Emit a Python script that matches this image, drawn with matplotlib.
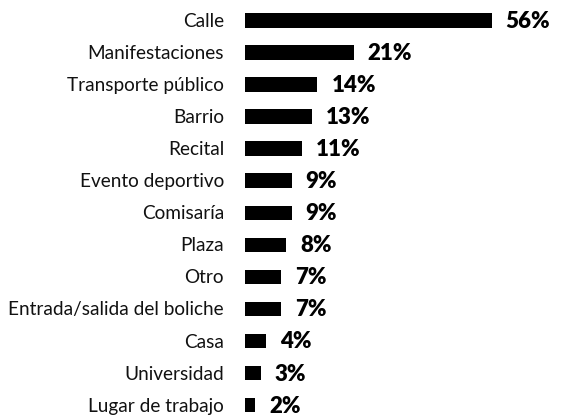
import matplotlib
matplotlib.use("Agg")
import matplotlib.pyplot as plt

categories = ["Calle", "Manifestaciones", "Transporte público", "Barrio", "Recital",
              "Evento deportivo", "Comisaría", "Plaza", "Otro",
              "Entrada/salida del boliche", "Casa", "Universidad", "Lugar de trabajo"]
values = [56, 21, 14, 13, 11, 9, 9, 8, 7, 7, 4, 3, 2]
value_labels = ["56%", "21%", "14%", "13%", "11%", "9%", "9%", "8%", "7%", "7%", "4%", "3%", "2%"]

W, H = 562, 418
fig = plt.figure(figsize=(W / 100, H / 100), dpi=100)
x0, x1 = 245, 491.7
xmax = 47.7
ax = fig.add_axes([x0 / W, 0, (x1 - x0) / W, 1])
pitch = 32.03
top_c = 20.7
ax.set_ylim((H - top_c) / pitch, -top_c / pitch)
ax.set_xlim(0, xmax)

ys = list(range(len(categories)))
ax.barh(ys, values, height=0.46, color="black")
for y, v, lab, cat in zip(ys, values, value_labels, categories):
    xe = min(v, xmax)
    ax.annotate(lab, (xe, y), xytext=(14, -1), textcoords="offset pixels",
                ha="left", va="center", fontsize=16, fontweight="heavy", family="Lato",
                annotation_clip=False)
    ax.annotate(cat, (0, y), xytext=(-21, -1), textcoords="offset pixels",
                ha="right", va="center", fontsize=13.7, family="Lato", color="#111111",
                annotation_clip=False)
ax.axis("off")
fig.savefig("out.png", dpi=100)
